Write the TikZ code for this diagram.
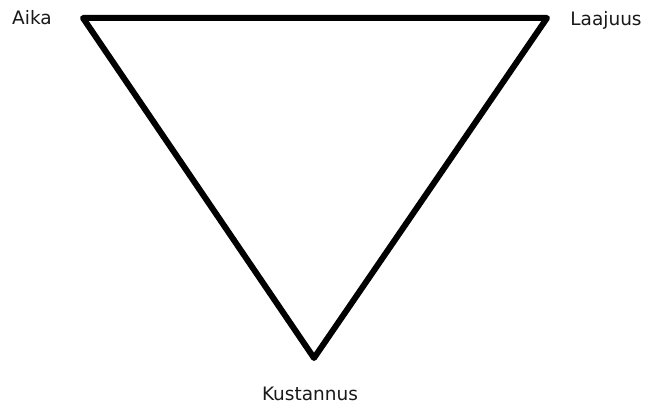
\documentclass[tikz,border=0pt]{standalone}
\usepackage{fontspec}
\setmainfont{DejaVu Sans}
\begin{document}
\begin{tikzpicture}[x=1pt,y=1pt,
  lbl/.style={inner sep=0pt,font=\fontsize{18.5}{22}\selectfont,text=black!90},
  edge/.style={line width=6pt,line join=round,line cap=round}]
\useasboundingbox (0,0) rectangle (650,405);
\coordinate (A) at (83,387);
\coordinate (L) at (547,387);
\coordinate (K) at (314,47);
\draw[edge] (A) -- (L) -- (K) -- cycle;
\node[lbl] (aika) at (32,387) {Aika};
\node[lbl] (laajuus) at (606,385) {Laajuus};
\node[lbl] (kust) at (310,11) {Kustannus};
\end{tikzpicture}
\end{document}
